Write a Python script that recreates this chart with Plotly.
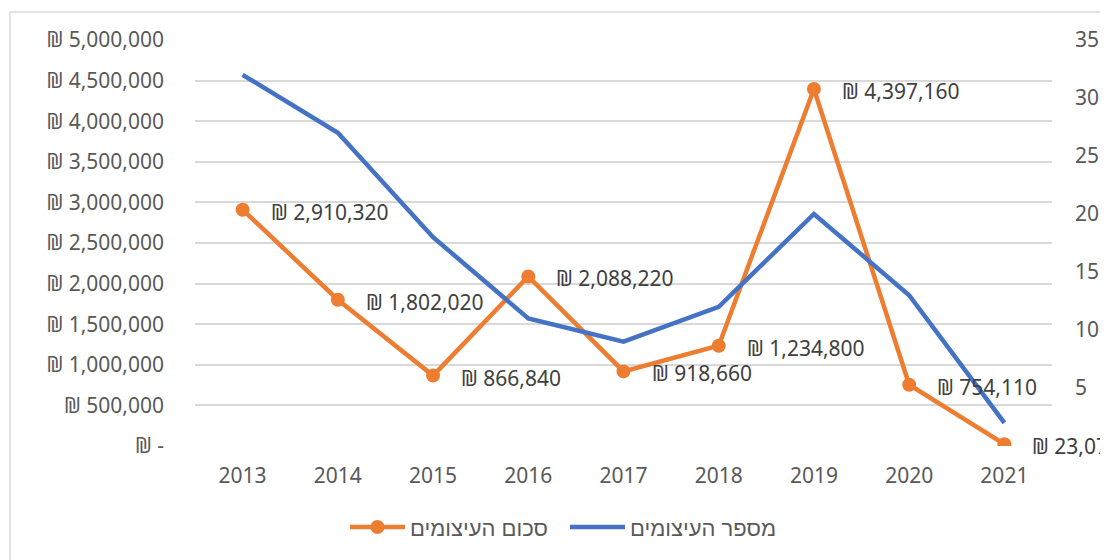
import plotly.graph_objects as go

years = ["2013", "2014", "2015", "2016", "2017", "2018", "2019", "2020", "2021"]
amounts = [2910320, 1802020, 866840, 2088220, 918660, 1234800, 4397160, 754110, 23075]
counts = [32, 27, 18, 11, 9, 12, 20, 13, 2]
left_ticks = [0, 500000, 1000000, 1500000, 2000000, 2500000, 3000000, 3500000, 4000000, 4500000, 5000000]
left_labels = ["₪ -", "₪ 500,000", "₪ 1,000,000", "₪ 1,500,000", "₪ 2,000,000", "₪ 2,500,000",
               "₪ 3,000,000", "₪ 3,500,000", "₪ 4,000,000", "₪ 4,500,000", "₪ 5,000,000"]
right_ticks = [5, 10, 15, 20, 25, 30, 35]
name_amount = "סכום העיצומים"
name_count = "מספר העיצומים"

FONT = "Noto Sans, DejaVu Sans, sans-serif"
LEGEND_FONT = "Liberation Sans, Arial, DejaVu Sans, sans-serif"
ORANGE = "#ED7D31"
BLUE = "#4472C4"

fig = go.Figure()
fig.add_trace(go.Scatter(x=years, y=amounts, name=name_amount, mode="lines+markers",
                         line=dict(color=ORANGE, width=4.5),
                         marker=dict(color=ORANGE, size=14), yaxis="y"))
fig.add_trace(go.Scatter(x=years, y=counts, name=name_count, mode="lines",
                         line=dict(color=BLUE, width=4.5), yaxis="y2"))

for i, v in enumerate(amounts):
    fig.add_annotation(x=i, y=v, xref="x", yref="y", text=f"₪ {v:,}",
                       showarrow=False, xanchor="left", yanchor="middle",
                       xshift=26, yshift=-2,
                       font=dict(family=FONT, size=21, color="#404040"))

fig.add_shape(type="rect", xref="paper", yref="paper",
              x0=-0.2159, x1=1.2, y0=-0.5, y1=1.069,
              line=dict(color="#D9D9D9", width=1.5), fillcolor="rgba(0,0,0,0)", layer="below")

# the page body adds an 8px offset; margins are set so the plot area lands where the reference has it
fig.update_layout(
    width=1108, height=552,
    margin=dict(l=187, r=64, t=32, b=114, autoexpand=False),
    paper_bgcolor="white", plot_bgcolor="white",
    font=dict(family=FONT, size=21, color="#595959"),
    xaxis=dict(type="category", range=[-0.5, 8.5], autorange=False, automargin=False,
               showgrid=False, showline=False, zeroline=False,
               ticks="", tickfont=dict(size=21, color="#595959"), ticklabelstandoff=15),
    yaxis=dict(range=[0, 5000000], tickvals=left_ticks, ticktext=left_labels, automargin=False,
               showgrid=True, gridcolor="#D9D9D9", gridwidth=1.5, zeroline=False,
               showline=False, ticks="", ticklabelstandoff=30,
               tickfont=dict(size=21, color="#595959")),
    yaxis2=dict(range=[0, 35], tickvals=right_ticks, overlaying="y", side="right", automargin=False,
                showgrid=False, zeroline=False, showline=False, ticks="",
                ticklabelstandoff=22, tickfont=dict(size=21, color="#595959")),
    legend=dict(orientation="h", x=0.175, xanchor="left", y=-0.2, yanchor="middle",
                font=dict(family=LEGEND_FONT, size=22, color="#595959"), itemwidth=55,
                entrywidth=150, entrywidthmode="pixels",
                traceorder="normal"),
    showlegend=True,
)

fig.write_html("out.html")
